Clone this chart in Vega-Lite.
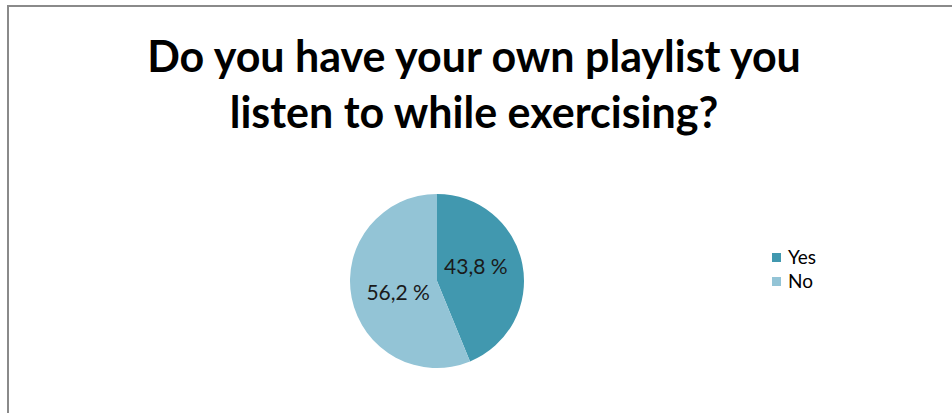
{
  "$schema": "https://vega.github.io/schema/vega-lite/v6.json",
  "autosize": "none",
  "padding": {"left": 8, "top": 6, "right": 0, "bottom": 0},
  "width": 960,
  "height": 420,
  "background": "#ffffff",
  "view": {"stroke": "#8a8a8a", "strokeWidth": 2},
  "title": {
    "text": ["Do you have your own playlist you", "listen to while exercising?"],
    "font": "Lato",
    "fontSize": 43,
    "fontWeight": "bold",
    "color": "#000000",
    "anchor": "middle",
    "frame": "group",
    "orient": "top",
    "lineHeight": 56,
    "dx": -14,
    "offset": -131
  },
  "data": {
    "values": [
      {"answer": "Yes", "percent": 43.8, "label": "43,8 %"},
      {"answer": "No", "percent": 56.2, "label": "56,2 %"}
    ]
  },
  "layer": [
    {
      "mark": {"type": "arc", "outerRadius": 87, "xOffset": -51, "yOffset": 65},
      "encoding": {
        "theta": {"field": "percent", "type": "quantitative", "stack": true},
        "order": {"field": "answer", "type": "nominal", "sort": "descending"},
        "color": {
          "field": "answer",
          "type": "nominal",
          "sort": ["Yes", "No"],
          "scale": {"domain": ["Yes", "No"], "range": ["#4198AF", "#93C4D6"]},
          "legend": {
            "title": null,
            "orient": "none",
            "legendX": 759,
            "legendY": 242,
            "symbolType": "square",
            "symbolSize": 81,
            "symbolStrokeWidth": 0,
            "labelFont": "Lato",
            "labelFontSize": 19,
            "labelColor": "#000000",
            "labelOffset": 2,
            "rowPadding": 4,
            "padding": 0
          }
        }
      }
    },
    {
      "mark": {"type": "text", "radius": 41, "xOffset": -51, "yOffset": 65, "font": "Lato", "fontSize": 21, "color": "#1a1a1a"},
      "encoding": {
        "theta": {"field": "percent", "type": "quantitative", "stack": true, "scale": {"range": [-0.131, 6.152]}},
        "order": {"field": "answer", "type": "nominal", "sort": "descending"},
        "text": {"field": "label", "type": "nominal"}
      }
    }
  ],
  "resolve": {"scale": {"theta": "independent"}},
  "config": {
    "view": {"stroke": "#8a8a8a", "strokeWidth": 2}
  }
}
